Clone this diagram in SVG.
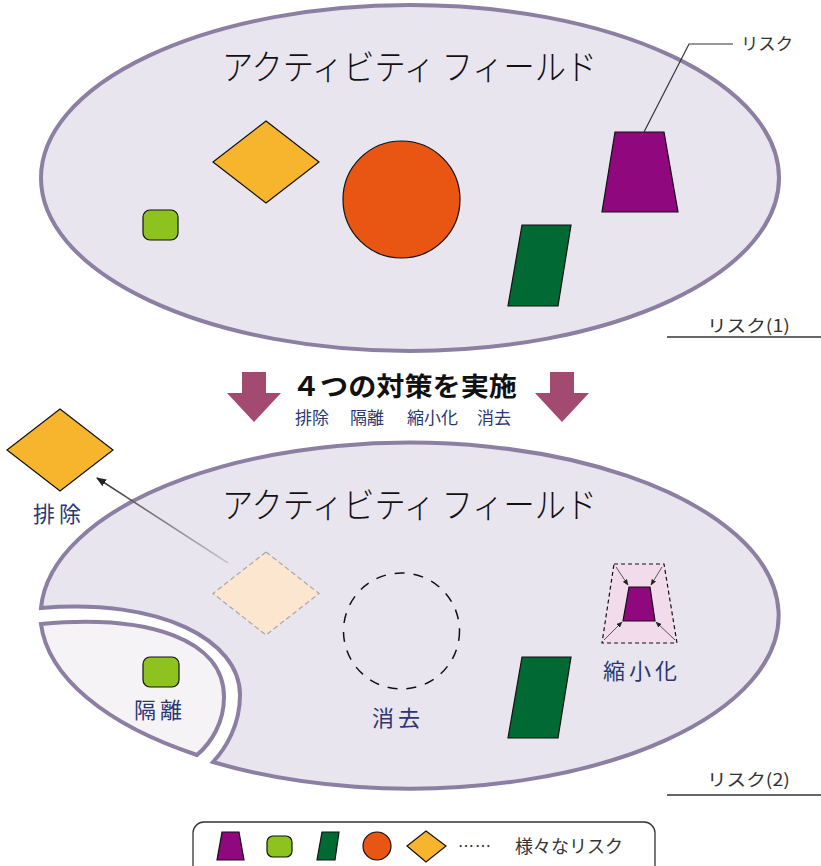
<svg xmlns="http://www.w3.org/2000/svg" width="821" height="866" viewBox="0 0 821 866">
<style>
.jp{font-family:"Noto Sans CJK JP","Noto Sans",sans-serif}
.field{fill:#e8e5ee;stroke:#8c7fa2;stroke-width:4}
.iso{fill:#f6f3f6;stroke:#8c7fa2;stroke-width:4}
.title{font-size:35px;font-weight:300;fill:#111}
.lbl{font-size:22px;fill:#2b3770;letter-spacing:4px}
.small{font-size:17px;fill:#333}
.dia{fill:#f7b52e;stroke:#111;stroke-width:1.2}
.sq{fill:#8dc21f;stroke:#111;stroke-width:1.2}
.cir{fill:#e95513;stroke:#111;stroke-width:1.2}
.trap{fill:#8f087e;stroke:#111;stroke-width:1.2}
.par{fill:#006934;stroke:#111;stroke-width:1.2}
.down{fill:#a34a71}
.thin{stroke:#333;stroke-width:1.2;fill:none}
</style>
<defs>
<marker id="ah" markerWidth="10" markerHeight="8" refX="9" refY="4" orient="auto" markerUnits="userSpaceOnUse">
<path d="M0,0 L10,4 L0,8 Z" fill="#222"/>
</marker>
<marker id="ahs" markerWidth="6" markerHeight="5" refX="5.5" refY="2.5" orient="auto" markerUnits="userSpaceOnUse">
<path d="M0,0 L6,2.5 L0,5 Z" fill="#222"/>
</marker>
<linearGradient id="g1" gradientUnits="userSpaceOnUse" x1="228" y1="563" x2="97" y2="478">
<stop offset="0" stop-color="#c8c8c8"/>
<stop offset="1" stop-color="#333"/>
</linearGradient>
</defs>

<!-- Top field -->
<g id="field1">
<ellipse class="field" cx="410" cy="178" rx="369" ry="173"/>
<text class="jp title" x="222" y="80" textLength="375" lengthAdjust="spacingAndGlyphs">アクティビティ フィールド</text>
</g>
<g id="risk1-diamond"><polygon class="dia" points="266,121 319,162 266,203 213,162"/></g>
<g id="risk1-square"><rect class="sq" x="143" y="210" width="35" height="30" rx="7"/></g>
<g id="risk1-circle"><circle class="cir" cx="401.5" cy="199.5" r="58.5"/></g>
<g id="risk1-trap"><polygon class="trap" points="615,132 664,132 678,212 602,212"/></g>
<g id="risk1-para"><polygon class="par" points="522,225 571,225 558,306 508,306"/></g>
<g id="risk-callout">
<polyline class="thin" points="644,132 689,44 733,44"/>
<text class="jp small" x="741" y="50" textLength="52" lengthAdjust="spacingAndGlyphs">リスク</text>
</g>
<g id="caption1">
<text class="jp small" x="707" y="332" textLength="83" lengthAdjust="spacingAndGlyphs">リスク(1)</text>
<line x1="667" y1="337" x2="821" y2="337" stroke="#333" stroke-width="1.3"/>
</g>

<!-- Middle -->
<g id="arrow-left"><polygon class="down" points="242,372 266,372 266,393 281,393 254,422 227,393 242,393"/></g>
<g id="arrow-right"><polygon class="down" points="550,372 574,372 574,393 589,393 562,422 535,393 550,393"/></g>
<g id="heading">
<text class="jp" x="292" y="396" font-size="26" font-weight="700" fill="#111" textLength="225" lengthAdjust="spacingAndGlyphs">４つの対策を実施</text>
<g class="jp" font-size="17" fill="#2b3770">
<text x="295" y="424">排除</text>
<text x="350" y="424">隔離</text>
<text x="407" y="424">縮小化</text>
<text x="477" y="424">消去</text>
</g>
</g>

<!-- Bottom field -->
<g id="field2">
<path class="field" d="M41,608 A369,173 0 1 1 213,762 C226,748 240,725 240,695 C240,640 160,598 41,608 Z"/>
<text class="jp title" x="222" y="518" textLength="375" lengthAdjust="spacingAndGlyphs">アクティビティ フィールド</text>
</g>
<g id="isolated">
<path class="iso" d="M41,624 C150,614 224,640 224,697 C224,722 212,742 197,755 A369,173 0 0 1 41,624 Z"/>
<rect class="sq" x="143" y="657" width="36" height="30" rx="7"/>
<text class="jp lbl" x="134" y="718">隔離</text>
</g>
<g id="eliminated-ghost"><polygon points="266,552 319,593.5 266,635 213,593.5" fill="#fce6cf" stroke="#a8a8a8" stroke-width="1.2" stroke-dasharray="5,3"/></g>
<g id="eliminated">
<polygon class="dia" points="60,409 113,450 60,491 7,450"/>
<text class="jp lbl" x="33" y="522">排除</text>
</g>
<g id="connectors">
<line x1="228" y1="563" x2="97" y2="478" stroke="url(#g1)" stroke-width="1.5" marker-end="url(#ah)"/>
</g>
<g id="removed">
<circle cx="401.5" cy="631" r="58" fill="none" stroke="#111" stroke-width="1.5" stroke-dasharray="10,9"/>
<text class="jp lbl" x="372" y="726">消去</text>
</g>
<g id="risk2-para"><polygon class="par" points="522,657 571,657 558,738 508,738"/></g>
<g id="reduced">
<polygon points="614,564 664,564 677,643 602,643" fill="#f2dcec" stroke="#111" stroke-width="1.2" stroke-dasharray="4,3"/>
<polygon class="trap" points="629,587 650,587 655,621 623,621"/>
<g stroke="#444" stroke-width="0.9" fill="none">
<line x1="616" y1="567" x2="628" y2="585" marker-end="url(#ahs)"/>
<line x1="662" y1="567" x2="651" y2="585" marker-end="url(#ahs)"/>
<line x1="604" y1="640" x2="622" y2="622" marker-end="url(#ahs)"/>
<line x1="675" y1="640" x2="656" y2="622" marker-end="url(#ahs)"/>
</g>
<text class="jp lbl" x="603" y="679" letter-spacing="7">縮小化</text>
</g>
<g id="caption2">
<text class="jp small" x="707" y="786" textLength="83" lengthAdjust="spacingAndGlyphs">リスク(2)</text>
<line x1="667" y1="795" x2="821" y2="795" stroke="#333" stroke-width="1.3"/>
</g>

<!-- Legend -->
<g id="legend">
<rect x="193" y="822" width="462" height="60" rx="11" fill="#fff" stroke="#333" stroke-width="1.3"/>
<polygon class="trap" points="222,832 239,832 244,860 217,860"/>
<rect class="sq" x="267" y="836" width="25" height="21" rx="6"/>
<polygon class="par" points="322,832 339,832 335,860 317,860"/>
<circle class="cir" cx="377" cy="846" r="14"/>
<polygon class="dia" points="426,831 446,846 426,862 407,846"/>
<text class="jp" x="458" y="852" font-size="16" fill="#333" letter-spacing="1">……</text>
<text class="jp" x="515" y="853" font-size="18" fill="#333">様々なリスク</text>
</g>
</svg>
